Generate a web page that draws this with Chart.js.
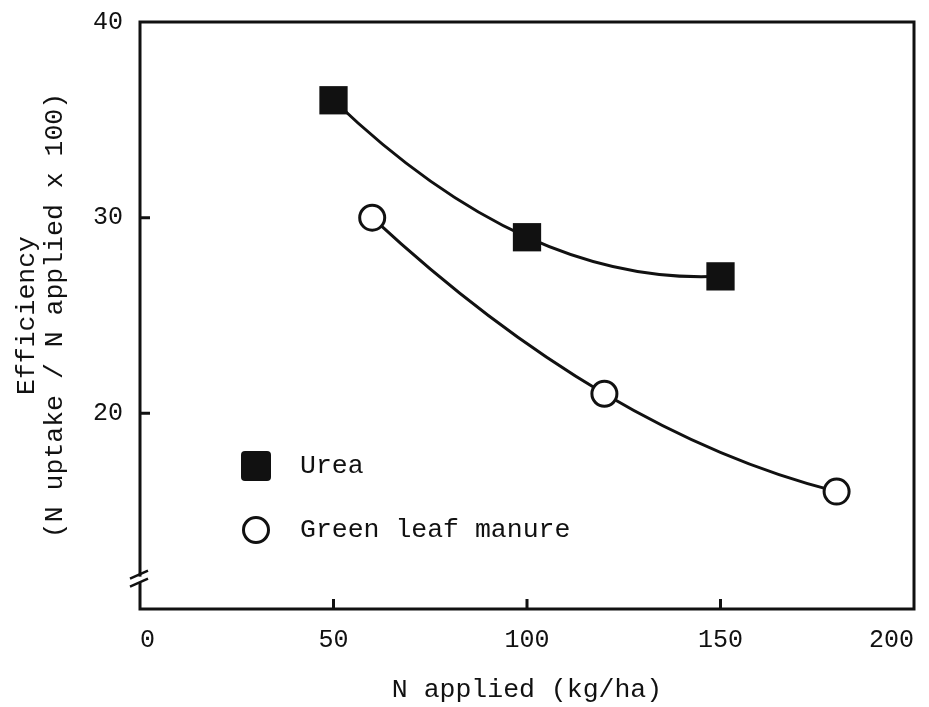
<!DOCTYPE html>
<html>
<head>
<meta charset="utf-8">
<script src="https://cdn.jsdelivr.net/npm/chart.js@4.4.1/dist/chart.umd.min.js"></script>
<style>
    html, body { margin: 0; padding: 0; background: #fff; }
</style>
</head>
<body>
<canvas id="chartEff" width="929" height="707"></canvas>
<script>
// data
const ureaN = [50, 100, 150];
const ureaEff = [36, 29, 27];
const leafN = [60, 120, 180];
const leafEff = [30, 21, 16];
const xTicks = [0, 50, 100, 150, 200];
const yTicks = [20, 30, 40];
const seriesNames = ["Urea", "Green leaf manure"];
const breakAt = 11.5;

const INK = "#111";
const FONT = "'Liberation Mono', 'DejaVu Sans Mono', monospace";

function toPoints(xs, ys) {
    return xs.map(function (x, i) { return { x: x, y: ys[i] }; });
}

// ============================
// FITTED CURVE: control points follow the quadratic through the 3 points
// ============================
const quadCurvePlugin = {
    id: "quadCurve",
    beforeDatasetDraw(chart, args) {
        const meta = args.meta;
        const pts = meta.data;
        meta.dataset.updateControlPoints(chart.chartArea, "x");
        if (pts.length !== 3) return;
        const x0 = pts[0].x, x1 = pts[1].x, x2 = pts[2].x;
        const y0 = pts[0].y, y1 = pts[1].y, y2 = pts[2].y;
        function slope(x) {
            return y0 * (2 * x - x1 - x2) / ((x0 - x1) * (x0 - x2)) +
                   y1 * (2 * x - x0 - x2) / ((x1 - x0) * (x1 - x2)) +
                   y2 * (2 * x - x0 - x1) / ((x2 - x0) * (x2 - x1));
        }
        pts.forEach(function (p, i) {
            const m = slope(p.x);
            const hPrev = i > 0 ? (p.x - pts[i - 1].x) / 3 : 0;
            const hNext = i < pts.length - 1 ? (pts[i + 1].x - p.x) / 3 : 0;
            p.cp1x = p.x - hPrev;
            p.cp1y = p.y - m * hPrev;
            p.cp2x = p.x + hNext;
            p.cp2y = p.y + m * hNext;
        });
    }
};

// ============================
// FRAME, INWARD TICKS, AXIS BREAK, LEGEND
// ============================
const framePlugin = {
    id: "frame",
    afterDraw(chart) {
        const ctx = chart.ctx;
        const a = chart.chartArea;
        const xs = chart.scales.x;
        const ys = chart.scales.y;
        ctx.save();
        ctx.strokeStyle = INK;
        ctx.lineWidth = 3;
        ctx.strokeRect(a.left, a.top, a.right - a.left, a.bottom - a.top);

        ctx.beginPath();
        xTicks.forEach(function (v) {
            const px = xs.getPixelForValue(v);
            if (px <= a.left + 2 || px >= a.right - 2) return;
            ctx.moveTo(px, a.bottom);
            ctx.lineTo(px, a.bottom - 10);
        });
        yTicks.forEach(function (v) {
            const py = ys.getPixelForValue(v);
            if (py <= a.top + 2 || py >= a.bottom - 2) return;
            ctx.moveTo(a.left, py);
            ctx.lineTo(a.left + 10, py);
        });
        ctx.stroke();

        // break on the y axis
        const yb = ys.getPixelForValue(breakAt);
        ctx.fillStyle = "#fff";
        ctx.fillRect(a.left - 3, yb - 3, 6, 6);
        ctx.lineWidth = 2.5;
        ctx.beginPath();
        ctx.moveTo(a.left - 10, yb - 1);
        ctx.lineTo(a.left + 8, yb - 9);
        ctx.moveTo(a.left - 10, yb + 7);
        ctx.lineTo(a.left + 8, yb - 1);
        ctx.stroke();

        // legend inside the plot
        ctx.font = "26.5px " + FONT;
        ctx.textBaseline = "middle";
        ctx.textAlign = "left";
        chart.data.datasets.forEach(function (ds, i) {
            const cx = a.left + 116;
            const cy = a.bottom - 143 + i * 64;
            if (ds.pointStyle === "rect") {
                ctx.fillStyle = INK;
                ctx.beginPath();
                ctx.roundRect(cx - 15, cy - 15, 30, 30, 4);
                ctx.fill();
            } else {
                ctx.fillStyle = "#fff";
                ctx.lineWidth = 3;
                ctx.beginPath();
                ctx.arc(cx, cy, 12.5, 0, Math.PI * 2);
                ctx.fill();
                ctx.stroke();
            }
            ctx.fillStyle = INK;
            ctx.fillText(ds.label, cx + 44, cy);
        });
        ctx.restore();
    }
};

const ctx = document.getElementById("chartEff");
new Chart(ctx, {
    type: "line",
    data: {
        datasets: [{
            label: seriesNames[0],
            data: toPoints(ureaN, ureaEff),
            borderColor: INK,
            borderWidth: 3,
            tension: 0.4,
            pointStyle: "rect",
            pointRadius: 20,
            pointBorderWidth: 0,
            pointBackgroundColor: INK
        }, {
            label: seriesNames[1],
            data: toPoints(leafN, leafEff),
            borderColor: INK,
            borderWidth: 3,
            tension: 0.4,
            pointStyle: "circle",
            pointRadius: 12.5,
            pointBorderWidth: 3,
            pointBorderColor: INK,
            pointBackgroundColor: "#fff"
        }]
    },
    options: {
        responsive: false,
        animation: false,
        layout: {
            autoPadding: false,
            padding: { top: 22, right: 15, left: 0, bottom: 0 }
        },
        plugins: {
            legend: { display: false },
            tooltip: { enabled: false }
        },
        scales: {
            x: {
                type: "linear",
                min: 0,
                max: 200,
                grid: { display: false },
                border: { display: false },
                afterBuildTicks: function (scale) {
                    scale.ticks = xTicks.map(function (v) { return { value: v }; });
                },
                afterFit: function (scale) {
                    scale.height = 98;
                    scale.paddingLeft = 0;
                    scale.paddingRight = 0;
                },
                ticks: {
                    align: "inner",
                    padding: 8,
                    color: INK,
                    font: { family: FONT, size: 25 }
                },
                title: {
                    display: true,
                    text: "N applied (kg/ha)",
                    color: INK,
                    padding: { top: 0, bottom: 3 },
                    font: { family: FONT, size: 26.5, lineHeight: 1.06 }
                }
            },
            y: {
                type: "linear",
                min: 10,
                max: 40,
                grid: { display: false },
                border: { display: false },
                afterBuildTicks: function (scale) {
                    scale.ticks = yTicks.map(function (v) { return { value: v }; });
                },
                afterFit: function (scale) {
                    scale.width = 140;
                    scale.paddingTop = 0;
                    scale.paddingBottom = 0;
                },
                ticks: {
                    padding: 9,
                    color: INK,
                    font: { family: FONT, size: 25 }
                },
                title: {
                    display: true,
                    text: ["Efficiency", "(N uptake / N applied x 100)"],
                    color: INK,
                    padding: { top: 13, bottom: 0 },
                    font: { family: FONT, size: 26.5, lineHeight: 1.06 }
                }
            }
        }
    },
    plugins: [quadCurvePlugin, framePlugin]
});
</script>
</body>
</html>
